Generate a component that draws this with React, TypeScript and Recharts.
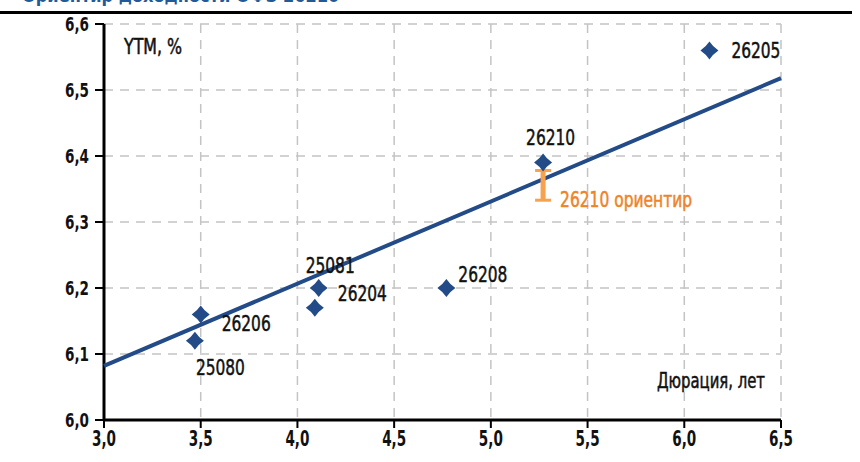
import React from "react";
import { ScatterChart, Scatter, XAxis, YAxis, CartesianGrid } from "recharts";

// bonds: duration (years) and YTM (%)
const bondNames = ["26205", "26210", "26208", "25081", "26204", "26206", "25080"];
const durations = [6.13, 5.27, 4.77, 4.11, 4.09, 3.5, 3.47];
const ytms = [6.56, 6.39, 6.2, 6.2, 6.17, 6.16, 6.12];

// trend line end points
const trendX = [3.0, 6.5];
const trendY = [6.082, 6.518];

// orientir range for 26210
const guideDuration = 5.27;
const guideYields = [6.333, 6.378];

const xTicks = [3.0, 3.5, 4.0, 4.5, 5.0, 5.5, 6.0, 6.5];
const yTicks = [6.0, 6.1, 6.2, 6.3, 6.4, 6.5, 6.6];

const BLUE = "#234b87";
const ORANGE = "#ee8329";
const ORANGE_BAR = "#f8a24e";
const FONT = "'DejaVu Sans Condensed', 'DejaVu Sans', sans-serif";

// label placement relative to the marker centre
const labelPos: Record<string, { dx: number; dy: number }> = {
  "26205": { dx: 22, dy: 8 },
  "26210": { dx: -17, dy: -18 },
  "26208": { dx: 12, dy: -6 },
  "25081": { dx: -13, dy: -15 },
  "26204": { dx: 23, dy: -7 },
  "26206": { dx: 21, dy: 17 },
  "25080": { dx: 1, dy: 34 },
};

const bonds = bondNames.map((name, i) => ({ name, x: durations[i], y: ytms[i] }));
const trend = trendX.map((x, i) => ({ x, y: trendY[i] }));
const guide = guideYields.map((y, i) => ({ x: guideDuration, y, low: i === 0 }));

const fmt = (v: number) => v.toFixed(1).replace(".", ",");

const textStyle = {
  fontFamily: FONT,
  lengthAdjust: "spacingAndGlyphs",
  strokeWidth: 0.5,
} as any;

const BondPoint = (props: any) => {
  const { cx, cy, payload } = props;
  const r = 9;
  const k = 3.6;
  const p = labelPos[payload.name] || { dx: 15, dy: 0 };
  return (
    <g>
      <path
        d={`M${cx},${cy - r} Q${cx + k},${cy - k} ${cx + r},${cy} Q${cx + k},${cy + k} ${cx},${cy + r} Q${cx - k},${cy + k} ${cx - r},${cy} Q${cx - k},${cy - k} ${cx},${cy - r}Z`}
        fill={BLUE}
      />
      <text
        {...textStyle}
        x={cx + p.dx}
        y={cy + p.dy}
        fontSize={22}
        textLength={49}
        fill="#111"
        stroke="#111"
      >
        {payload.name}
      </text>
    </g>
  );
};

const GuideCap = (props: any) => {
  const { cx, cy, payload } = props;
  return (
    <g>
      <line x1={cx - 8} x2={cx + 8} y1={cy} y2={cy} stroke={ORANGE_BAR} strokeWidth={3} />
      {payload.low && (
        <text
          {...textStyle}
          x={cx + 17}
          y={cy + 7}
          fontSize={21}
          textLength={132}
          fill={ORANGE}
          stroke={ORANGE}
        >
          26210 ориентир
        </text>
      )}
    </g>
  );
};

const XTick = (props: any) => {
  const { x, y, payload } = props;
  return (
    <text
      {...textStyle}
      x={x - 12}
      y={y + 16}
      fontSize={21}
      fontWeight="bold"
      textLength={24}
      fill="#111"
    >
      {fmt(payload.value)}
    </text>
  );
};

const YTick = (props: any) => {
  const { x, y, payload } = props;
  return (
    <text
      {...textStyle}
      x={x - 24}
      y={y + 7}
      fontSize={20}
      fontWeight="bold"
      textLength={24}
      fill="#111"
    >
      {fmt(payload.value)}
    </text>
  );
};

export default function App() {
  return (
    <div
      style={{
        position: "absolute",
        left: 0,
        top: 0,
        width: 860,
        height: 462,
        overflow: "hidden",
        background: "#fff",
      }}
    >
      <div
        style={{
          position: "absolute",
          left: 22,
          top: -13,
          fontFamily: FONT,
          fontWeight: "bold",
          fontSize: 18,
          lineHeight: "18px",
          color: "#1f5a9a",
          whiteSpace: "nowrap",
        }}
      >
        Ориентир доходности ОФЗ 26210
      </div>
      <div
        style={{
          position: "absolute",
          left: 0,
          top: 11,
          width: 852,
          height: 3,
          background: "#000",
        }}
      />
      <div style={{ position: "absolute", left: 0, top: 0 }}>
        <ScatterChart
          width={860}
          height={462}
          margin={{ top: 24, right: 79, bottom: 0, left: 0 }}
        >
          <CartesianGrid
            stroke="#c4c4c4"
            strokeWidth={1.5}
            strokeDasharray="9 7"
            horizontalValues={yTicks}
            verticalValues={xTicks}
          />
          <XAxis
            type="number"
            dataKey="x"
            domain={[3, 6.5]}
            ticks={xTicks}
            height={42}
            axisLine={{ stroke: "#000", strokeWidth: 3 }}
            tickLine={{ stroke: "#000", strokeWidth: 2 }}
            tickSize={8}
            tick={<XTick />}
          />
          <YAxis
            type="number"
            dataKey="y"
            domain={[6.0, 6.6]}
            ticks={yTicks}
            width={104}
            axisLine={{ stroke: "#000", strokeWidth: 3 }}
            tickLine={{ stroke: "#000", strokeWidth: 2 }}
            tickSize={9}
            tickMargin={6}
            tick={<YTick />}
          />
          <Scatter
            data={trend}
            line={{ stroke: BLUE, strokeWidth: 4 }}
            shape={() => null}
            isAnimationActive={false}
          />
          <Scatter
            data={guide}
            line={{ stroke: ORANGE_BAR, strokeWidth: 5 }}
            shape={GuideCap}
            isAnimationActive={false}
          />
          <Scatter data={bonds} shape={BondPoint} isAnimationActive={false} />
          <text
            {...textStyle}
            x={124}
            y={54}
            fontSize={21}
            textLength={58}
            fill="#111"
            stroke="#111"
          >
            YTM, %
          </text>
          <text
            {...textStyle}
            x={657}
            y={388}
            fontSize={21}
            textLength={108}
            fill="#111"
            stroke="#111"
          >
            Дюрация, лет
          </text>
        </ScatterChart>
      </div>
    </div>
  );
}
